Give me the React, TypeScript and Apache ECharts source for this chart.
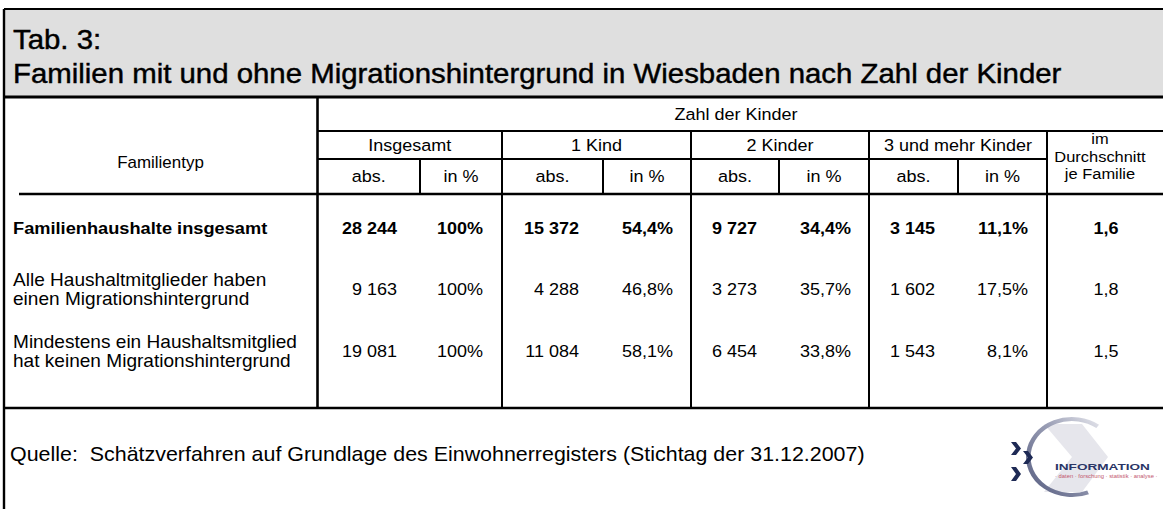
import React, { useEffect, useRef } from "react";
import * as echarts from "echarts";

// ---------- data ----------
const titleLines = [
  "Tab. 3:",
  "Familien mit und ohne Migrationshintergrund in Wiesbaden nach Zahl der Kinder",
];
const groupHeader = "Zahl der Kinder";
const firstColHeader = "Familientyp";
const childGroups = ["Insgesamt", "1 Kind", "2 Kinder", "3 und mehr Kinder"];
const subHeaders = ["abs.", "in %"];
const avgHeader = ["im", "Durchschnitt", "je Familie"];
const rowLabels = [
  ["Familienhaushalte insgesamt"],
  ["Alle Haushaltmitglieder haben", "einen Migrationshintergrund"],
  ["Mindestens ein Haushaltsmitglied", "hat keinen Migrationshintergrund"],
];
const rowBold = [true, false, false];
const absInsgesamt = [28244, 9163, 19081];
const pctInsgesamt = [100, 100, 100];
const abs1Kind = [15372, 4288, 11084];
const pct1Kind = [54.4, 46.8, 58.1];
const abs2Kinder = [9727, 3273, 6454];
const pct2Kinder = [34.4, 35.7, 33.8];
const abs3Kinder = [3145, 1602, 1543];
const pct3Kinder = [11.1, 17.5, 8.1];
const avgKinder = [1.6, 1.8, 1.5];
const sourceText =
  "Quelle:  Schätzverfahren auf Grundlage des Einwohnerregisters (Stichtag der 31.12.2007)";
const logoText = "INFORMATION";
const logoSub = "· daten · forschung · statistik · analyse ·";

// ---------- layout ----------
const W = 1163;
const H = 509;
const FONT = "'Liberation Sans', Arial, Helvetica, sans-serif";
const SX = 1.06;
const LEFT = 4;
const TOP = 9;
const TITLE_BOTTOM = 97;
const Y_ZAHL = 131;
const Y_GROUP = 159;
const Y_HEAD = 194;
const Y_BOTTOM = 408;
const X_MAIN = 317.5;
const X_GROUPS = [317.5, 502, 691, 869, 1047];
const X_SUBS = [420, 603, 779, 958];
const ABS_RIGHT = [397, 579, 757, 935];
const PCT_RIGHT = [483, 673, 851, 1028];
const AVG_CENTER = 1106;
const ROW_Y = [228, 289, 351];
const LABEL_LINE_GAP = 19;

const fmtAbs = (n: number) => String(n).replace(/\B(?=(\d{3})+(?!\d))/g, " ");
const fmtPct = (v: number) => (Number.isInteger(v) ? String(v) : v.toFixed(1).replace(".", ",")) + "%";
const fmtDec = (v: number) => v.toFixed(1).replace(".", ",");

function txt(
  text: string,
  x: number,
  y: number,
  size: number,
  align: string = "left",
  bold = false,
  fill = "#000",
  sx = SX,
  strokeW = 0
) {
  const style: any = {
    text,
    fill,
    fontSize: size,
    fontWeight: bold ? "bold" : "normal",
    fontFamily: FONT,
    textAlign: align,
    textVerticalAlign: "middle",
  };
  if (strokeW > 0) {
    style.stroke = fill;
    style.lineWidth = strokeW;
  }
  return { type: "text", x, y, scaleX: sx, silent: true, style };
}

function line(x1: number, y1: number, x2: number, y2: number, w = 2) {
  return {
    type: "line",
    silent: true,
    shape: { x1, y1, x2, y2 },
    style: { stroke: "#000", lineWidth: w },
  };
}

function chevron(x: number, y: number, w: number, h: number) {
  const t = 5;
  return {
    type: "polygon",
    silent: true,
    shape: {
      points: [
        [x, y],
        [x + t, y],
        [x + w, y + h / 2],
        [x + t, y + h],
        [x, y + h],
        [x + w - t, y + h / 2],
      ],
    },
    style: { fill: "#1e2a55" },
  };
}

function buildElements() {
  const els: any[] = [];
  // title band
  els.push({
    type: "rect",
    silent: true,
    shape: { x: LEFT, y: TOP, width: W - LEFT, height: TITLE_BOTTOM - TOP },
    style: { fill: "#dfdfdf" },
  });
  els.push(txt(titleLines[0], 13, 39.5, 28, "left", false, "#000", 1.05, 0.45));
  els.push(txt(titleLines[1], 13, 73, 28, "left", false, "#000", 1.05, 0.45));

  // frame and grid lines
  els.push(line(LEFT, TOP, W, TOP, 2));
  els.push(line(LEFT, TOP, LEFT, H, 2.4));
  els.push(line(LEFT, TITLE_BOTTOM, W, TITLE_BOTTOM, 3));
  els.push(line(X_MAIN, TITLE_BOTTOM, X_MAIN, Y_BOTTOM, 2.6));
  els.push(line(X_MAIN, Y_ZAHL, W, Y_ZAHL, 2));
  els.push(line(X_MAIN, Y_GROUP, X_GROUPS[4], Y_GROUP, 2));
  els.push(line(19, Y_HEAD, W, Y_HEAD, 2.4));
  els.push(line(LEFT, Y_BOTTOM, W, Y_BOTTOM, 2.4));
  for (let i = 1; i < X_GROUPS.length; i++) {
    els.push(line(X_GROUPS[i], Y_ZAHL, X_GROUPS[i], Y_BOTTOM, 2));
  }
  for (const x of X_SUBS) els.push(line(x, Y_GROUP, x, Y_HEAD, 2));

  // header texts
  els.push(txt(firstColHeader, 160.5, 162, 16, "center"));
  els.push(txt(groupHeader, 736, 114.5, 17, "center"));
  childGroups.forEach((g, i) => {
    els.push(txt(g, (X_GROUPS[i] + X_GROUPS[i + 1]) / 2, 145, 17, "center"));
    const mid = X_SUBS[i];
    els.push(txt(subHeaders[0], (X_GROUPS[i] + mid) / 2, 176, 17, "center"));
    els.push(txt(subHeaders[1], (mid + X_GROUPS[i + 1]) / 2, 176, 17, "center"));
  });
  avgHeader.forEach((t, i) => {
    els.push(txt(t, 1100, 139 + i * 17.5, 15.5, "center"));
  });

  // body rows
  const absCols = [absInsgesamt, abs1Kind, abs2Kinder, abs3Kinder];
  const pctCols = [pctInsgesamt, pct1Kind, pct2Kinder, pct3Kinder];
  rowLabels.forEach((lines, r) => {
    const bold = rowBold[r];
    const y0 = ROW_Y[r] - ((lines.length - 1) * LABEL_LINE_GAP) / 2;
    lines.forEach((l, k) => {
      els.push(txt(l, 13, y0 + k * LABEL_LINE_GAP, bold ? 17.2 : 18, "left", bold));
    });
    absCols.forEach((col, c) => {
      els.push(txt(fmtAbs(col[r]), ABS_RIGHT[c], ROW_Y[r], 17, "right", bold));
    });
    pctCols.forEach((col, c) => {
      els.push(txt(fmtPct(col[r]), PCT_RIGHT[c], ROW_Y[r], 17, "right", bold));
    });
    els.push(txt(fmtDec(avgKinder[r]), AVG_CENTER, ROW_Y[r], 17, "center", bold));
  });

  // source
  els.push(txt(sourceText, 10, 453.5, 20.3, "left", false, "#000", 1.055));

  // logo
  els.push({
    type: "polygon",
    silent: true,
    shape: {
      points: [
        [1044, 424],
        [1082, 424],
        [1108, 457],
        [1082, 492],
        [1044, 492],
        [1072, 457],
      ],
    },
    style: { fill: "#e6e6ec" },
  });
  els.push({
    type: "arc",
    silent: true,
    x: 1072,
    y: 457,
    scaleX: 1.15,
    shape: { cx: 0, cy: 0, r: 38, startAngle: Math.PI * 0.38, endAngle: Math.PI * 1.7, clockwise: true },
    style: {
      stroke: new echarts.graphic.LinearGradient(0, 1, 1, 0, [
        { offset: 0, color: "#565d80" },
        { offset: 0.6, color: "#9a9eb5" },
        { offset: 1, color: "#e2e3ea" },
      ]),
      lineWidth: 4,
      fill: null,
    },
  });
  els.push(chevron(1011, 442, 10, 13));
  els.push(chevron(1023, 451, 10, 13));
  els.push(chevron(1011, 467, 10, 14));
  els.push(txt(logoText, 1055, 467.5, 8.5, "left", true, "#2a3566", 1.6));
  els.push(txt(logoSub, 1055, 476, 4.5, "left", false, "#c2566e", 1.3));

  return els;
}

export default function App() {
  const ref = useRef<HTMLDivElement>(null);
  useEffect(() => {
    if (!ref.current) return;
    const chart = echarts.init(ref.current, undefined, { renderer: "svg" });
    chart.setOption({
      animation: false,
      backgroundColor: "#ffffff",
      graphic: { elements: buildElements() },
    });
    return () => chart.dispose();
  }, []);
  return (
    <div
      ref={ref}
      style={{ position: "fixed", left: 0, top: 0, width: W, height: H, background: "#fff" }}
    />
  );
}
